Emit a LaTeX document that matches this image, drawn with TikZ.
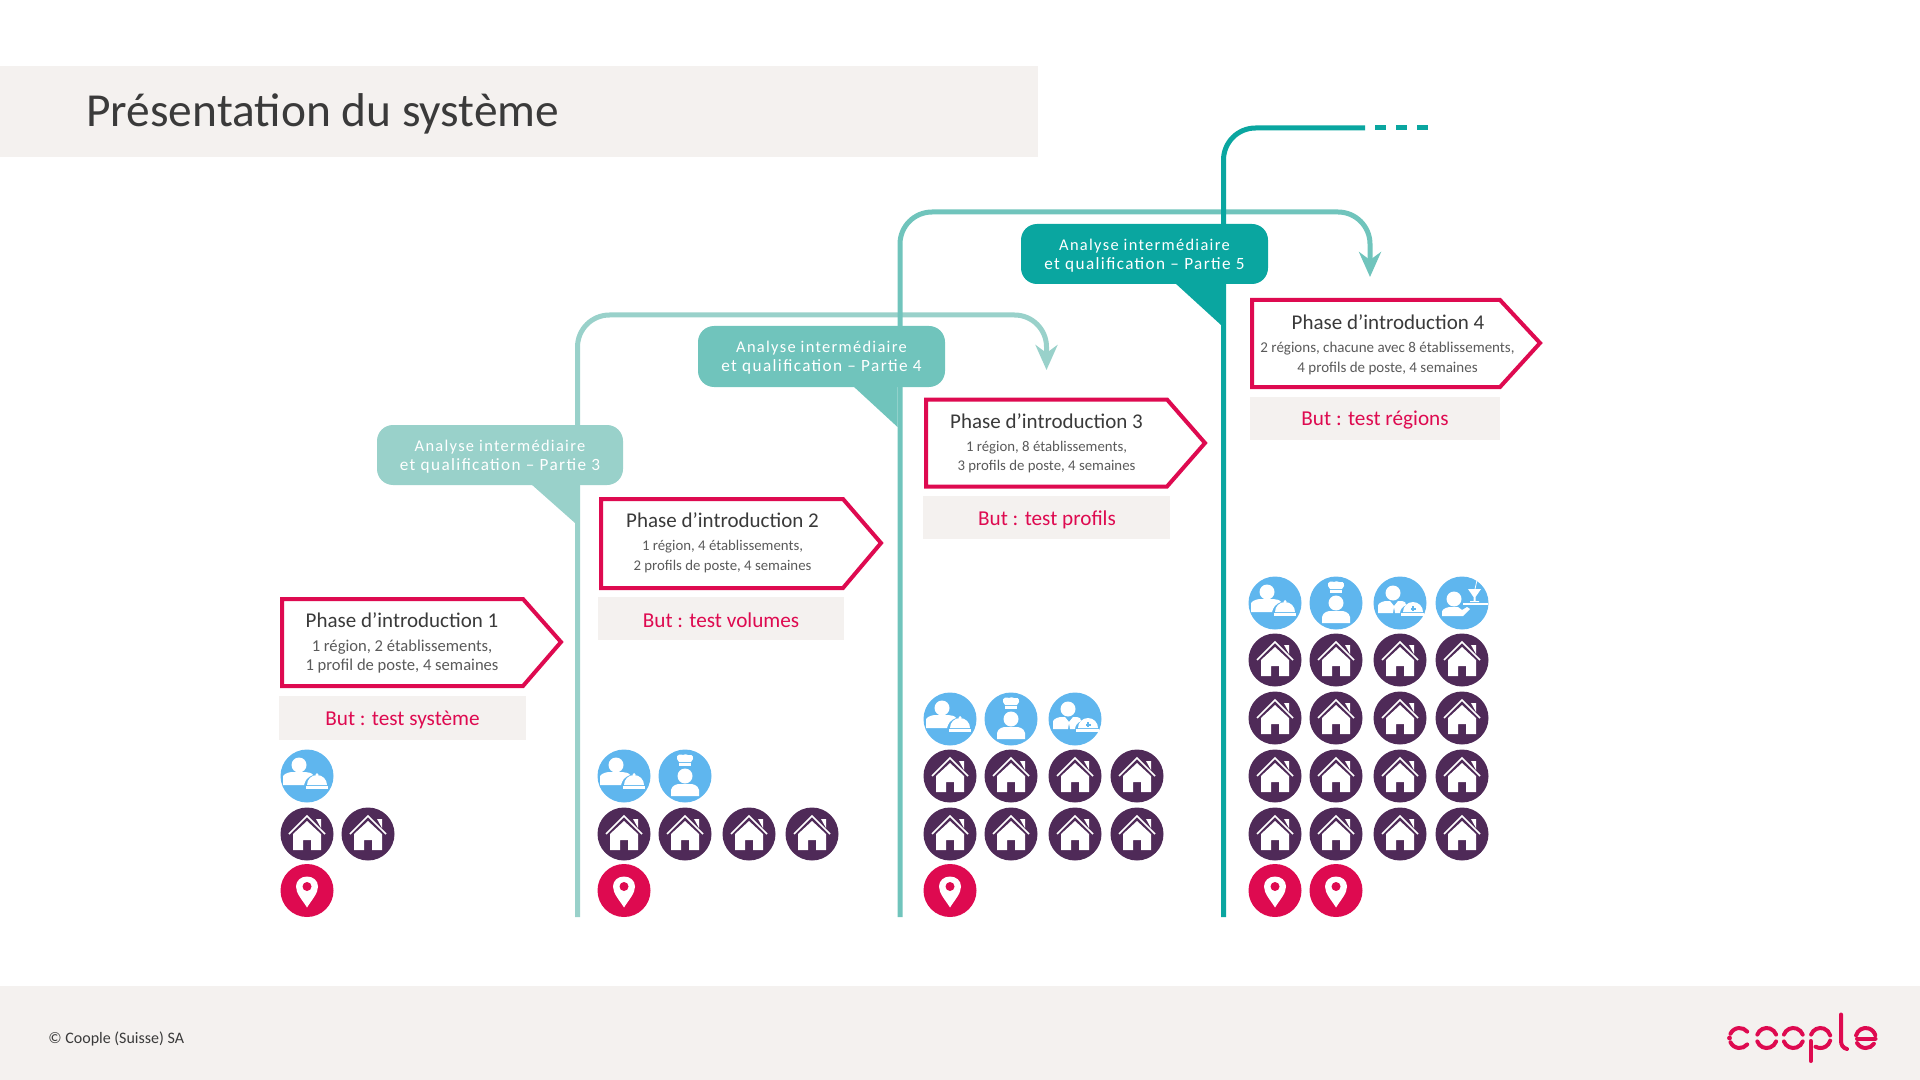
\documentclass[tikz,border=0pt]{standalone}
\usepackage{fontspec}
\setmainfont{Carlito}
\newfontfamily\callfont[LetterSpace=8]{Carlito}
\usetikzlibrary{arrows.meta}
\definecolor{bandgrey}{HTML}{F4F1EF}
\definecolor{pinkc}{HTML}{DE0A50}
\definecolor{tealA}{HTML}{99D1CA}
\definecolor{tealB}{HTML}{70C4BC}
\definecolor{tealC}{HTML}{0AA6A0}
\definecolor{bluec}{HTML}{5FB6EE}
\definecolor{purplec}{HTML}{4F2A58}
\definecolor{darktext}{HTML}{3A3A3A}
\definecolor{subtext}{HTML}{5A5A5A}
\newcommand{\fsz}[1]{\fontsize{#1}{#1}\selectfont}
\newcommand{\calltop}{{\fsz{8.2}Analyse intermédiaire}}
\tikzset{
  x=0.5pt,y=-0.5pt,
  band/.style={fill=bandgrey,draw=none},
  goalbox/.style={fill=bandgrey,draw=none,text=pinkc,font=\fsz{10.6},inner sep=0pt,align=center},
  phasebox/.style={draw=pinkc,line width=2pt,fill=white,miter limit=10},
  phasetitle/.style={text=darktext,font=\fsz{10.5},inner sep=0pt},
  phasesub/.style={text=subtext,font=\fsz{7.4},inner sep=0pt,align=center},
  phasesubwide/.style={text=subtext,font=\fsz{8.3},inner sep=0pt,align=center},
  calltext/.style={text=white,font=\callfont\fsz{8.6},inner sep=0pt,align=center,text depth=0pt},
  flow/.style={line width=2.5pt,rounded corners=16pt},
  tip/.style={-{Stealth[length=25*0.5pt,width=22*0.5pt,inset=8*0.5pt]}},
  ipurple/.pic={
    \fill[purplec] (0,0) circle (26.5);
    \fill[white] (0,-13) -- (14,0) -- (14,16) -- (4,16) -- (4,6) -- (-4,6) -- (-4,16) -- (-14,16) -- (-14,0) -- cycle;
    \draw[white,line width=0.8pt] (-18,0) -- (0,-18) -- (18,0);
    \fill[white] (9,-15) -- (14,-15) -- (14,-6) -- cycle;
  },
  ipin/.pic={
    \fill[pinkc] (0,0) circle (26.5);
    \fill[white] (0,17) .. controls (-5,9) and (-11,3) .. (-11,-4) .. controls (-11,-10) and (-6,-14) .. (0,-14) .. controls (6,-14) and (11,-10) .. (11,-4) .. controls (11,3) and (5,9) .. (0,17) -- cycle;
    \fill[pinkc] (0,-4) circle (4.5);
  },
  icloche/.pic={
    \fill[bluec] (0,0) circle (26.5);
    \fill[white] (-8,-11) circle (7.5);
    \fill[white] (-24,9) -- (-24,0) .. controls (-22,-3) and (-17,-4) .. (-14,-4) -- (-2,-4) .. controls (1,-4) and (5,-3) .. (6,-1) .. controls (0,1) and (-2,5) .. (-3,9) -- cycle;
    \fill[white] (0,9) arc[start angle=180,end angle=360,radius=10] -- cycle;
    \fill[white] (10,-1.5) circle (1.5);
    \fill[white] (-1,10) rectangle (21,12.5);
  },
  ichef/.pic={
    \fill[bluec] (0,0) circle (26.5);
    \fill[white] (0,0) circle (7.5);
    \fill[white] (-6,-10) rectangle (6,-13);
    \fill[white] (-6,-14) -- (-8,-17) .. controls (-9,-22) and (-4,-22) .. (-2,-21) .. controls (-1,-22) and (2,-22) .. (3,-21) .. controls (5,-22) and (9,-21) .. (8,-17) -- (6,-14) -- cycle;
    \fill[white] (-14,20) -- (-14,14) .. controls (-13,9) and (-8,8) .. (-5,8) -- (5,8) .. controls (8,8) and (13,9) .. (14,14) -- (14,20) -- cycle;
  },
  iservice/.pic={
    \fill[bluec] (0,0) circle (26.5);
    \fill[white] (-7,-10) circle (7.5);
    \fill[white] (-22,10) -- (-22,2) .. controls (-20,-1) and (-16,-2) .. (-13,-2) -- (-10,-2) -- (-6,3) -- (-2,-2) -- (2,-2) .. controls (5,-2) and (6,0) .. (6,2) .. controls (2,4) and (0,7) .. (0,10) -- (-5,10) -- (-6,4) -- (-7,10) -- cycle;
    \fill[white] (3,9) arc[start angle=180,end angle=360,radius=10] -- cycle;
    \fill[bluec] (12,3) rectangle (14,8);
    \fill[bluec] (10.5,4.5) rectangle (15.5,6.5);
    \fill[white] (1,10) rectangle (24,12.5);
  },
  icocktail/.pic={
    \fill[bluec] (0,0) circle (26.5);
    \fill[white] (-8,-4) circle (7.5);
    \fill[white] (-20,13) -- (-20,8) .. controls (-18,5) and (-14,4) .. (-11,4) -- (-4,4) -- (0,7) -- (5,4) -- (8,6) -- (1,13) -- cycle;
    \fill[white] (1,0) rectangle (26,1.5);
    \fill[white] (6,-14) -- (19,-14) -- (13.5,-6) -- (13.5,-2) -- (17,-2) -- (17,-1) -- (8,-1) -- (8,-2) -- (11.5,-2) -- (11.5,-6) -- cycle;
    \draw[white,line width=0.4pt] (13,-14) -- (15,-23) -- (18,-24);
  },
}
\begin{document}
\begin{tikzpicture}
\useasboundingbox (0,0) rectangle (1920,1080);
% bands
\fill[band] (0,66) rectangle (1038,157.5);
\fill[band] (0,986) rectangle (1920,1080);
\node[anchor=west,text=darktext,font=\fsz{23.7},inner sep=0pt] (title) at (86,114) {Présentation du système};
\node[anchor=west,text=darktext,font=\fsz{8},inner sep=0pt] (copyright) at (48,1039) {© Coople (Suisse) SA};

% free ends of the connectors
\coordinate (foota) at (577.5,917);
\coordinate (footb) at (900,917);
\coordinate (footc) at (1223.5,917);
\coordinate (kneea) at (577.5,315);
\coordinate (kneeb) at (900,212);
\coordinate (kneec) at (1223.5,128);
\coordinate (tipa) at (1046.5,370);
\coordinate (tipb) at (1370,277);
\coordinate (enda) at (1365,128);
\coordinate (dasha) at (1375,128);
\coordinate (dashb) at (1430,128);

% connectors
\draw[flow,tealA,tip] (foota) -- (kneea) -- (tipa |- kneea) -- (tipa);
\draw[flow,tealB,tip] (footb) -- (kneeb) -- (tipb |- kneeb) -- (tipb);
\draw[flow,tealC] (footc) -- (kneec) -- (enda);
\draw[line width=2.5pt,tealC,dash pattern=on 5.5pt off 5pt] (dasha) -- (dashb);

% callouts
\fill[tealA] (531,484) -- (575,523) -- (575,484) -- cycle;
\fill[tealB] (853,386) -- (897.5,427) -- (897.5,386) -- cycle;
\fill[tealC] (1175,283) -- (1221,325) -- (1221,283) -- cycle;
\fill[tealA,rounded corners=8pt] (377,425) rectangle (623,485);
\fill[tealB,rounded corners=8pt] (698,326) rectangle (945,387);
\fill[tealC,rounded corners=8pt] (1021,224) rectangle (1268,284);
\node[calltext] (calla) at (500,455.5) {\calltop\\[1.2pt]et qualification – Partie 3};
\node[calltext] (callb) at (821.5,356.5) {\calltop\\[1.2pt]et qualification – Partie 4};
\node[calltext] (callc) at (1144.5,254.5) {\calltop\\[1.2pt]et qualification – Partie 5};

% phase 1
\draw[phasebox] (282,599) -- (523,599) -- (561,642) -- (523,686) -- (282,686) -- cycle;
\node[phasetitle] (pa) at (402,620.5) {Phase d’introduction 1};
\node[phasesubwide] (sa) at (402,656.5) {1 région, 2 établissements,\\[1.5pt]1 profil de poste, 4 semaines};
\fill[band] (279,696) rectangle (526,740);
\node[goalbox] (ga) at (402.5,719.5) {But : test système};
% phase 2
\draw[phasebox] (601,499) -- (843,499) -- (881,543) -- (843,588) -- (601,588) -- cycle;
\node[phasetitle] (pb) at (722.5,520.5) {Phase d’introduction 2};
\node[phasesub] (sb) at (722.5,556.5) {1 région, 4 établissements,\\[2.4pt]2 profils de poste, 4 semaines};
\fill[band] (597.5,597) rectangle (844,640);
\node[goalbox] (gb) at (721,620) {But : test volumes};
% phase 3
\draw[phasebox] (926,399.5) -- (1167,399.5) -- (1205,443) -- (1167,486.5) -- (926,486.5) -- cycle;
\node[phasetitle] (pc) at (1046.5,421) {Phase d’introduction 3};
\node[phasesub] (sc) at (1046.5,457) {1 région, 8 établissements,\\[2.4pt]3 profils de poste, 4 semaines};
\fill[band] (923,496) rectangle (1170,539);
\node[goalbox] (gc) at (1047,519.5) {But : test profils};
% phase 4
\draw[phasebox] (1252,300) -- (1500,300) -- (1540,343) -- (1500,387) -- (1252,387) -- cycle;
\node[phasetitle] (pd) at (1388,322.5) {Phase d’introduction 4};
\node[phasesub,font=\fsz{7.5}] (sd) at (1387.5,358.5) {2 régions, chacune avec 8 établissements,\\[2.3pt]4 profils de poste, 4 semaines};
\fill[band] (1250,397) rectangle (1500,440);
\node[goalbox] (gd) at (1375,420) {But : test régions};

% icons
\foreach \x/\y in {307/834,368/834,
  624/834,685/834,749/834,812/834,
  950/776,1011/776,1075/776,1137/776,950/834,1011/834,1075/834,1137/834,
  1275/660,1336/660,1400/660,1462/660,
  1275/718,1336/718,1400/718,1462/718,
  1275/776,1336/776,1400/776,1462/776,
  1275/834,1336/834,1400/834,1462/834}
  \pic at (\x,\y) {ipurple};
\foreach \x/\y in {307/890.5,624/890.5,950/890.5,1275/890.5,1336/890.5}
  \pic at (\x,\y) {ipin};
\pic at (307,776) {icloche};
\pic at (624,776) {icloche};
\pic at (685,776) {ichef};
\pic at (950,719) {icloche};
\pic at (1011,719) {ichef};
\pic at (1075,719) {iservice};
\pic at (1275,603) {icloche};
\pic at (1336,603) {ichef};
\pic at (1400,603) {iservice};
\pic at (1462,603) {icocktail};

% logo
\begin{scope}[pinkc,line width=2pt,line cap=round]
  % c
  \draw (1739.5,1038) ++(205:10) arc[start angle=205,end angle=320,radius=10];
  \draw (1739.5,1038) ++(155:10) arc[start angle=155,end angle=40,radius=10];
  \fill (1729.5,1038) circle (2.4);
  % o o
  \foreach \cx in {1766.7,1793.3}{
    \draw (\cx,1038) ++(200:10) arc[start angle=200,end angle=340,radius=10];
    \draw (\cx,1038) ++(160:10) arc[start angle=160,end angle=20,radius=10];
  }
  % p
  \draw (1820.5,1038) ++(200:10) arc[start angle=200,end angle=345,radius=10];
  \draw (1820.5,1038) ++(120:10) arc[start angle=120,end angle=15,radius=10];
  \draw (1810.7,1041) -- (1810.7,1061);
  % l
  \draw (1841,1014.5) -- (1841,1041) .. controls (1841,1045) and (1843,1048) .. (1847,1049);
  % e
  \draw (1865.7,1038) ++(195:10) arc[start angle=195,end angle=345,radius=10];
  \draw (1857,1038.5) -- (1875.5,1038.5);
  \draw (1865.7,1038) ++(150:10) arc[start angle=150,end angle=35,radius=10];
\end{scope}
\end{tikzpicture}
\end{document}
